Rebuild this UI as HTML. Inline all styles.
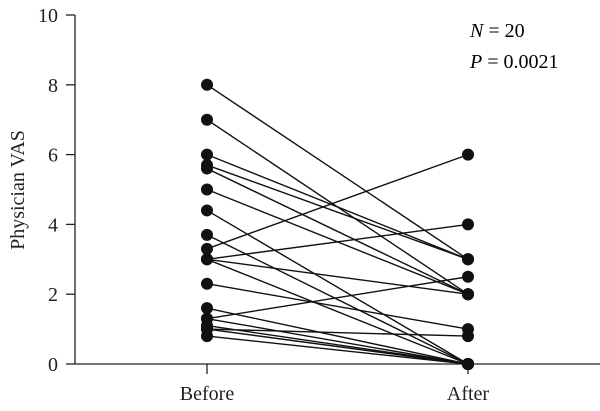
<!DOCTYPE html>
<html><head><meta charset="utf-8"><style>
html,body{margin:0;padding:0;background:#fff;}
svg{display:block;font-family:"Liberation Serif",serif;}
</style></head><body>
<svg id="chart" width="600" height="411" viewBox="0 0 600 411">
<g id="axes"></g>
<g id="lines"></g>
<g id="dots"></g>
<text x="470" y="37" font-size="20"><tspan font-style="italic">N</tspan> = 20</text>
<text x="470" y="68" font-size="20"><tspan font-style="italic">P</tspan> = 0.0021</text>
</svg>
<script>
const categories = ["Before", "After"];
const beforeValues = [8, 7, 6, 5.7, 5.6, 5, 4.4, 3.7, 3.3, 3, 3, 3, 2.3, 1.6, 1.3, 1.3, 1.1, 1.0, 0.8, 1.0];
const afterValues  = [3, 2, 3, 3, 2, 2, 0, 0, 6, 4, 2, 0, 1, 0, 2.5, 0, 0, 0.8, 0, 0];
const yTicks = [0, 2, 4, 6, 8, 10];

const NS = "http://www.w3.org/2000/svg";
const y0 = 364, y10 = 15;
function yScale(v){ return y0 - (v/10)*(y0-y10); }
const xPos = [207, 468];
function xScale(i){ return xPos[i]; }
function mk(tag, attrs, parent){ const e=document.createElementNS(NS,tag); for(const k in attrs) e.setAttribute(k,attrs[k]); parent.appendChild(e); return e; }

const axes = document.getElementById("axes");
let a = mk("line",{x1:75,y1:y10,x2:75,y2:y0,stroke:"#222","stroke-width":1.3},axes);


a = mk("line",{x1:75,y1:y0,x2:600,y2:y0,stroke:"#222","stroke-width":1.3},axes);


yTicks.forEach(t=>{
  const tk = mk("line",{x1:66,y1:yScale(t),x2:75,y2:yScale(t),stroke:"#222","stroke-width":1.3},axes);
  
  
  const tl = mk("text",{x:58,y:yScale(t)+7,"text-anchor":"end","font-size":20,fill:"#222"},axes);
  tl.textContent = t;
  
  
});
categories.forEach((c,i)=>{
  const tk = mk("line",{x1:xScale(i),y1:y0,x2:xScale(i),y2:374,stroke:"#222","stroke-width":1.3},axes);
  
  
  const tl = mk("text",{x:xScale(i),y:400,"text-anchor":"middle","font-size":20,fill:"#222"},axes);
  tl.textContent = c;
  
  
});
const yt = mk("text",{x:0,y:0,"text-anchor":"middle","font-size":20,fill:"#222",transform:"translate(24,190) rotate(-90)"},axes);
yt.textContent = "Physician VAS";



const lines = document.getElementById("lines"), dots = document.getElementById("dots");
beforeValues.forEach((b,i)=>{
  const av = afterValues[i];
  const l = mk("line",{x1:xScale(0),y1:yScale(b),x2:xScale(1),y2:yScale(av),stroke:"#111","stroke-width":1.4},lines);
  
  
  const c1 = mk("circle",{cx:xScale(0),cy:yScale(b),r:6,fill:"#111"},dots);
  
  
  const c2 = mk("circle",{cx:xScale(1),cy:yScale(av),r:6,fill:"#111"},dots);
  
  
});
</script>
</body></html>
